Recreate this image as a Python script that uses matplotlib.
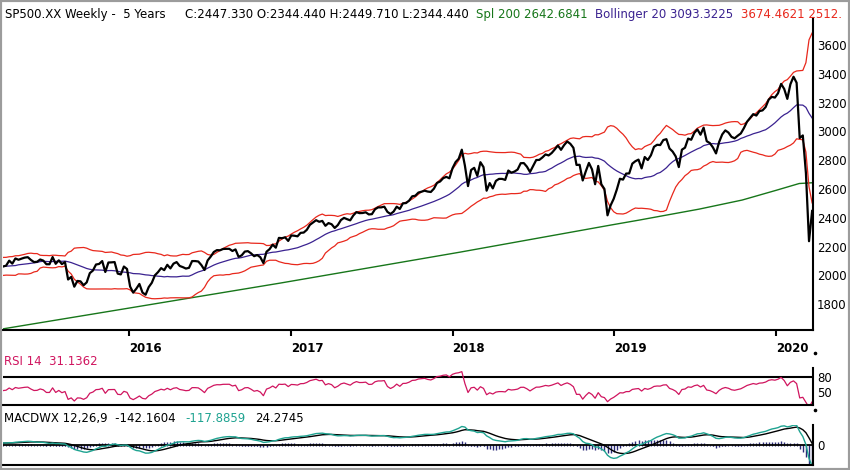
import numpy as np
import pandas as pd
import matplotlib
matplotlib.use("Agg")
import matplotlib.pyplot as plt
from matplotlib.lines import Line2D
from matplotlib.patches import Rectangle

# weekly closes, SP500 (first 20 weeks are lead-in for the indicators)
close_2014 = [2032, 2039, 2064, 2068, 2075, 2002, 2071, 2088]
close_2015 = [2058, 2045, 2019, 2051, 1995, 2055, 2097, 2110, 2105, 2071, 2053, 2108,
              2061, 2067, 2102, 2081, 2117, 2108, 2116, 2123, 2126, 2107, 2092, 2094,
              2110, 2102, 2077, 2077, 2127, 2080, 2104, 2078, 2092, 1971, 1989, 1921,
              1961, 1958, 1931, 1951, 2015, 2033, 2075, 2079, 2099, 2023, 2089, 2090,
              2092, 2012, 2006, 2061]
close_2016 = [2044, 1922, 1880, 1907, 1940, 1880, 1865, 1918, 1948, 2000, 2022, 2050,
              2036, 2073, 2048, 2081, 2092, 2065, 2057, 2047, 2052, 2099, 2099, 2096,
              2071, 2037, 2103, 2130, 2162, 2175, 2174, 2183, 2184, 2184, 2169, 2180,
              2128, 2139, 2165, 2168, 2153, 2133, 2141, 2126, 2085, 2164, 2182, 2213,
              2192, 2260, 2258, 2264, 2239]
close_2017 = [2277, 2275, 2271, 2295, 2297, 2316, 2351, 2367, 2383, 2372, 2378, 2344,
              2363, 2355, 2329, 2349, 2384, 2399, 2390, 2382, 2416, 2439, 2432, 2433,
              2438, 2423, 2425, 2459, 2472, 2472, 2477, 2441, 2426, 2443, 2477, 2461,
              2500, 2502, 2519, 2549, 2553, 2575, 2581, 2588, 2582, 2579, 2602, 2642,
              2652, 2675, 2684, 2674]
close_2018 = [2744, 2787, 2810, 2873, 2762, 2620, 2732, 2747, 2691, 2786, 2752, 2588,
              2641, 2604, 2656, 2670, 2670, 2663, 2728, 2713, 2721, 2735, 2779, 2780,
              2755, 2718, 2760, 2801, 2802, 2819, 2840, 2833, 2850, 2875, 2902, 2872,
              2905, 2930, 2914, 2886, 2767, 2768, 2659, 2723, 2781, 2736, 2633, 2760,
              2633, 2600, 2417, 2486]
close_2019 = [2532, 2596, 2671, 2665, 2707, 2708, 2776, 2793, 2804, 2743, 2822, 2801,
              2834, 2893, 2907, 2905, 2940, 2946, 2881, 2860, 2826, 2752, 2873, 2887,
              2950, 2942, 2990, 3014, 2977, 3026, 2932, 2919, 2889, 2847, 2926, 2979,
              3007, 2992, 2962, 2952, 2970, 2986, 3023, 3067, 3093, 3120, 3110, 3141,
              3146, 3169, 3221, 3240]
close_2020 = [3235, 3265, 3330, 3295, 3226, 3328, 3380, 3338, 2954, 2972, 2711, 2237]
last_close = 2447.33

# 200 week simple average, read at a few dates
spl_dates = ["2015-03-23", "2016-01-01", "2016-12-08", "2018-01-18", "2018-12-24",
             "2019-02-27", "2019-07-12", "2019-10-17", "2020-01-01", "2020-02-23",
             "2020-03-23"]
spl_vals = [1628, 1772, 1946, 2161, 2349, 2384, 2460, 2523, 2590, 2638, 2643]

years = ["2016", "2017", "2018", "2019", "2020"]
price_ticks = [1800, 2000, 2200, 2400, 2600, 2800, 3000, 3200, 3400, 3600]

closes = (close_2014 + close_2015 + close_2016 + close_2017 + close_2018
          + close_2019 + close_2020)
# bars are stamped on the Monday of each week
dates = pd.date_range(end="2020-03-16", periods=len(closes), freq="W-MON")
dates = dates.append(pd.DatetimeIndex(["2020-03-23"]))
s = pd.Series(closes + [last_close], index=dates, dtype=float)

# indicators
mid = s.rolling(20).mean()
sd = s.rolling(20).std(ddof=0)
upper = mid + 2 * sd
lower = mid - 2 * sd

d = s.diff()
up = d.clip(lower=0).ewm(alpha=1 / 14, adjust=False).mean()
dn = (-d.clip(upper=0)).ewm(alpha=1 / 14, adjust=False).mean()
rsi = 100 - 100 / (1 + up / dn)

macd = s.ewm(span=12, adjust=False).mean() - s.ewm(span=26, adjust=False).mean()
sig = macd.ewm(span=9, adjust=False).mean()
hist = macd - sig

start = pd.Timestamp("2015-03-23")
end = pd.Timestamp("2020-03-25")
v = s.index >= start

RED = "#e8281c"
PURPLE = "#3a2290"
GREEN = "#17761a"
TEAL = "#1fa391"
PINK = "#d0155f"
NAVY = "#2a2a78"
FS = 8.5

W, H = 850, 470
fig = plt.figure(figsize=(8.5, 4.7), dpi=100)
plt.rcParams["font.family"] = "DejaVu Sans"


def box(x0, y0, x1, y1):
    return [x0 / W, 1 - y1 / H, (x1 - x0) / W, (y1 - y0) / H]


def style(a):
    a.spines["top"].set_visible(False)
    a.spines["left"].set_visible(False)
    a.spines["right"].set_linewidth(1.5)
    a.spines["bottom"].set_linewidth(1.5)
    a.yaxis.tick_right()
    a.tick_params(axis="y", length=0, pad=3, labelsize=FS)
    a.set_xlim(start, end)
    a.set_facecolor("none")


# main panel
ax = fig.add_axes(box(3, 18, 813, 330))
style(ax)
ax.plot(pd.to_datetime(spl_dates), spl_vals, color=GREEN, lw=1.0)
ax.plot(s.index[v], upper[v], color=RED, lw=0.9)
ax.plot(s.index[v], lower[v], color=RED, lw=0.9)
ax.plot(s.index[v], mid[v], color=PURPLE, lw=0.9)
ax.plot(s.index[v], s[v], color="black", lw=1.6)
ax.set_ylim(1620, 3788)
ax.set_yticks(price_ticks)
ax.set_xticks(pd.to_datetime([y + "-01-01" for y in years]))
ax.set_xticklabels(years, fontsize=FS, fontweight="bold")
for lab in ax.get_xticklabels():
    lab.set_ha("left")
ax.tick_params(axis="x", direction="out", length=4.5, width=1.5, pad=4)

# RSI panel
ar = fig.add_axes(box(3, 368, 813, 405))
style(ar)
ar.axhline(80, color="black", lw=1.5)
ar.plot(s.index[v], rsi[v], color=PINK, lw=0.9)
ar.set_ylim(25, 97.6)
ar.set_yticks([80, 50])
ar.set_xticks([])

# MACD panel
am = fig.add_axes(box(3, 425, 813, 465))
style(am)
am.vlines(s.index[v], 0, hist[v], color=NAVY, lw=1.0)
am.vlines(s.index[v], 0, -7, color=NAVY, lw=0.8)
am.axhline(0, color="black", lw=1.3)
am.plot(s.index[v], sig[v], color="black", lw=1.0)
am.plot(s.index[v], macd[v], color=TEAL, lw=1.0)
am.set_ylim(-100, 100)
am.set_yticks([0])
am.set_xticks([])

# titles
ty = 1 - 18.3 / H
fig.text(5 / W, ty, "SP500.XX Weekly -  5 Years", fontsize=FS, va="baseline")
fig.text(185 / W, ty, "C:2447.330 O:2344.440 H:2449.710 L:2344.440", fontsize=FS, va="baseline")
fig.text(476 / W, ty, "Spl 200 2642.6841", fontsize=FS, va="baseline", color=GREEN)
fig.text(595 / W, ty, "Bollinger 20 3093.3225", fontsize=FS, va="baseline", color=PURPLE)
fig.text(741 / W, ty, "3674.4621 2512.", fontsize=FS, va="baseline", color=RED)

fig.text(4 / W, 1 - 365 / H, "RSI 14  31.1362", fontsize=FS, va="baseline", color=PINK)
ry = 1 - 421.7 / H
fig.text(4 / W, ry, "MACDWX 12,26,9  -142.1604", fontsize=FS, va="baseline")
fig.text(185 / W, ry, "-117.8859", fontsize=FS, va="baseline", color=TEAL)
fig.text(255 / W, ry, "24.2745", fontsize=FS, va="baseline")

for yy in (353, 410):
    fig.add_artist(Line2D([815 / W], [1 - yy / H], marker="o", ms=1.6,
                          color="black", transform=fig.transFigure))

fig.add_artist(Rectangle((0, 0), 1, 1, transform=fig.transFigure, fill=False,
                         edgecolor="#9c9c9c", lw=3))

fig.savefig("out.png", dpi=100)
